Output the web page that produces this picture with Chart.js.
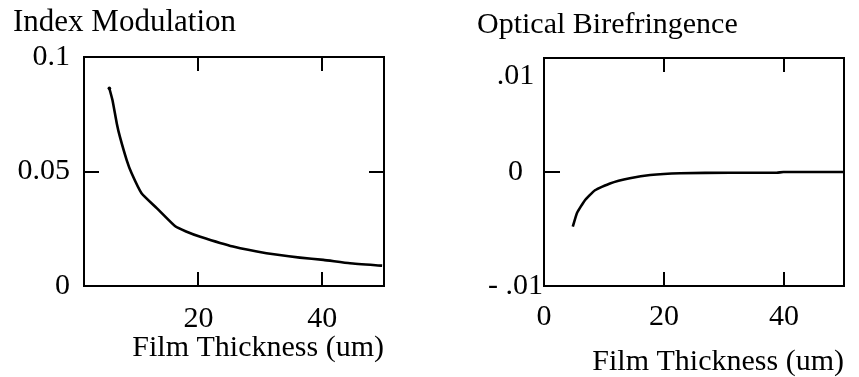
<!DOCTYPE html>
<html>
<head>
<meta charset="utf-8">
<script src="https://cdn.jsdelivr.net/npm/chart.js@4"></script>
<style>
  html, body { margin: 0; padding: 0; background: #fff; }
  #wrap { position: relative; width: 859px; height: 377px; overflow: hidden; }
  .panel { position: absolute; top: 0; }
</style>
</head>
<body>
<div id="wrap">
  <div class="panel" style="left:0"><canvas id="left-chart" width="430" height="377"></canvas></div>
  <div class="panel" style="left:430px"><canvas id="right-chart" width="429" height="377"></canvas></div>
</div>
<script>
/* ── Data ───────────────────────────────────────────────────── */
const modThickness = [5.6, 6.1, 6.8, 7.3, 8.4, 9.2, 10.8, 13.3, 16.2, 18.0, 20.3, 25.6, 31.0, 36.4, 40.2, 44.5, 49.7];
const modValues    = [0.0863, 0.0812, 0.0710, 0.0652, 0.0550, 0.0492, 0.0405, 0.0339, 0.0262, 0.0238, 0.0215, 0.0172, 0.0143, 0.0124, 0.0114, 0.0099, 0.0089];

const biThickness  = [4.8, 5.5, 6.8, 8.5, 11.0, 14.3, 17.7, 22.7, 31.0, 38.8, 39.9, 49.9];
const biValues     = [-0.0048, -0.0036, -0.0025, -0.0016, -0.0010, -0.00055, -0.00026, -0.00011, -0.00006, -0.00006, 0, 0];

const modXTicks = [20, 40];
const modYTicks = [0, 0.05, 0.1];
const modYLabels = ['0', '0.05', '0.1'];
const biXTicks  = [0, 20, 40];
const biYTicks  = [-0.01, 0, 0.01];
const biYLabels = ['- .01', '0', '.01'];

/* ── Shared look ────────────────────────────────────────────── */
Chart.defaults.font.family = "'Liberation Serif', 'Times New Roman', serif";
Chart.defaults.font.size = 30;
Chart.defaults.color = '#000';

const INK = '#000';
const border = { display: true, color: INK, width: 2 };
const inwardTicks = len => ({ display: true, drawOnChartArea: false, drawTicks: true, tickLength: -len, color: INK, lineWidth: 2 });
const setTicks = vals => scale => { scale.ticks = vals.map(v => ({ value: v })); };
const toPoints = (xs, ys) => xs.map((x, i) => ({ x, y: ys[i] }));

function curve(xs, ys, startDot) {
  return {
    data: toPoints(xs, ys),
    showLine: true,
    borderColor: INK,
    borderWidth: 2.6,
    pointRadius: c => (startDot && c.dataIndex === 0 ? 1.8 : 0),
    pointBackgroundColor: INK,
    pointBorderWidth: 0,
    tension: 0.15,
    fill: false
  };
}

/* ── Index Modulation ───────────────────────────────────────── */
new Chart(document.getElementById('left-chart'), {
  type: 'scatter',
  data: { datasets: [curve(modThickness, modValues, true)] },
  options: {
    responsive: false,
    animation: false,
    layout: { padding: { left: 13, right: 46, top: 0, bottom: 0 } },
    plugins: {
      legend: { display: false },
      tooltip: { enabled: false },
      title: {
        display: true, text: 'Index Modulation', align: 'start', color: INK,
        font: { size: 31, weight: 'normal', lineHeight: 1.2 },
        padding: { top: 4, bottom: 15.8 }
      }
    },
    scales: {
      x: {
        type: 'linear', position: 'bottom', min: 1.5, max: 50,
        afterBuildTicks: setTicks(modXTicks),
        afterFit: s => { s.height = 91; },
        ticks: { padding: 29, maxRotation: 0, callback: v => String(v) },
        grid: inwardTicks(14), border,
        title: {
          display: true, text: 'Film Thickness (um)', align: 'end', color: INK,
          font: { size: 30, lineHeight: 1 }, padding: { top: 0, bottom: 14 }
        }
      },
      xTop: {
        type: 'linear', position: 'top', min: 1.5, max: 50,
        afterBuildTicks: setTicks(modXTicks),
        afterFit: s => { s.height = 0; },
        ticks: { display: false },
        grid: inwardTicks(14), border
      },
      y: {
        type: 'linear', position: 'left', min: 0, max: 0.1,
        afterBuildTicks: setTicks(modYTicks),
        afterFit: s => { s.width = 71; },
        ticks: { padding: 29, callback: (v, i) => modYLabels[i] },
        grid: inwardTicks(15), border
      },
      yRight: {
        type: 'linear', position: 'right', min: 0, max: 0.1,
        afterBuildTicks: setTicks([0.05]),
        afterFit: s => { s.width = 0; },
        ticks: { display: false },
        grid: inwardTicks(15), border
      }
    }
  }
});

/* ── Optical Birefringence ──────────────────────────────────── */
new Chart(document.getElementById('right-chart'), {
  type: 'scatter',
  data: { datasets: [curve(biThickness, biValues, false)] },
  options: {
    responsive: false,
    animation: false,
    layout: { padding: { left: 47, right: 15, top: 0, bottom: 0 } },
    plugins: {
      legend: { display: false },
      tooltip: { enabled: false },
      title: {
        display: true, text: 'Optical Birefringence', align: 'start', color: INK,
        font: { size: 30, weight: 'normal', lineHeight: 1.2 },
        padding: { top: 7, bottom: 15 }
      }
    },
    scales: {
      x: {
        type: 'linear', position: 'bottom', min: 0, max: 50,
        afterBuildTicks: setTicks(biXTicks),
        afterFit: s => { s.height = 91; },
        ticks: { padding: 27, maxRotation: 0, callback: v => String(v) },
        grid: inwardTicks(14), border,
        title: {
          display: true, text: 'Film Thickness (um)', align: 'end', color: INK,
          font: { size: 30, lineHeight: 1 }, padding: { top: 0, bottom: 0 }
        }
      },
      xTop: {
        type: 'linear', position: 'top', min: 0, max: 50,
        afterBuildTicks: setTicks([20, 40]),
        afterFit: s => { s.height = 0; },
        ticks: { display: false },
        grid: inwardTicks(14), border
      },
      y: {
        type: 'linear', position: 'left', min: -0.01, max: 0.01,
        afterBuildTicks: setTicks(biYTicks),
        afterFit: s => { s.width = 67; },
        ticks: {
          padding: 17, crossAlign: 'center',
          // top label sits a little below the corner, as in the original
          callback: (v, i) => i === biYTicks.length - 1 ? ['', biYLabels[i]] : biYLabels[i]
        },
        grid: inwardTicks(16), border
      },
      yRight: {
        type: 'linear', position: 'right', min: -0.01, max: 0.01,
        afterBuildTicks: setTicks([]),
        afterFit: s => { s.width = 0; },
        ticks: { display: false },
        grid: { display: false }, border
      }
    }
  }
});
</script>
</body>
</html>
